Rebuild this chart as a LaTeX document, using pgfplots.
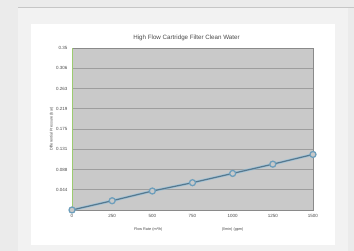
\documentclass[border=0pt]{standalone}
\usepackage{pgfplots}
\pgfplotsset{compat=1.18}
\usepackage{fontspec}
\setmainfont{Liberation Sans}
\definecolor{bgout}{HTML}{EBEBEB}
\definecolor{bgpanel}{HTML}{F2F2F2}
\definecolor{plotbg}{HTML}{C9C9C9}
\definecolor{gridc}{HTML}{9E9E9E}
\definecolor{framec}{HTML}{8A8A8A}
\definecolor{linec}{HTML}{56788E}
\definecolor{halo}{HTML}{8FC2DF}
\definecolor{markc}{HTML}{6E9FBC}
\definecolor{greenl}{HTML}{9CCB70}
\definecolor{txt}{HTML}{4A4A4A}
\begin{document}
\begin{tikzpicture}[x=1pt,y=1pt]
\useasboundingbox (0,0) rectangle (354,251);
\fill[bgout] (0,0) rectangle (354,251);
\fill[bgpanel] (18,0) rectangle (348,243);
\draw[gray!45,line width=0.8pt] (18,243.5) -- (354,243.5);
\fill[white] (31,6) rectangle (335,227);
\begin{axis}[
  at={(72pt,41pt)}, anchor=south west,
  width=241pt, height=162pt, scale only axis,
  xmin=0, xmax=6, ymin=0, ymax=0.35,
  xtick={0,1,2,3,4,5,6},
  xticklabels={0,250,500,750,1000,1250,1500},
  ytick={0.04375,0.0875,0.13125,0.175,0.21875,0.2625,0.30625,0.35},
  yticklabels={0.044,0.088,0.131,0.175,0.219,0.263,0.306,0.35},
  axis background/.style={fill=plotbg},
  axis line style={framec, line width=0.9pt},
  ymajorgrids, grid style={gridc, line width=0.7pt},
  tick style={draw=none},
  tick label style={font=\fontsize{4.5}{5}\selectfont, text=txt},
  /pgf/number format/assume math mode=true,
  yticklabel style={xshift=-1pt},
  xticklabel style={yshift=-1pt},
  title={High Flow Cartridge Filter Clean Water},
  title style={font=\fontsize{6.2}{7}\selectfont, text=txt, yshift=-2pt, xshift=-6pt},
  ylabel={Differential Pressure (bar)},
  ylabel style={font=\fontsize{3.8}{4}\selectfont, text=txt, yshift=-4pt},
  clip=false,
]
\draw[greenl, line width=1.5pt] (axis cs:0.015,0) -- (axis cs:0.015,0.35);
\addplot[halo, line width=2.8pt, opacity=0.6] coordinates {(0,0) (1,0.020) (2,0.041) (3,0.059) (4,0.079) (5,0.099) (6,0.120)};
\addplot[linec, line width=1.2pt, mark=*, mark size=3pt, mark options={draw=markc, fill=plotbg, line width=1.3pt}] coordinates {(0,0) (1,0.020) (2,0.041) (3,0.059) (4,0.079) (5,0.099) (6,0.120)};
\node[font=\fontsize{3.8}{4}\selectfont, text=txt] at (axis cs:1.9,-0.043) {Flow Rate (m³/h)};
\node[font=\fontsize{3.8}{4}\selectfont, text=txt] at (axis cs:4,-0.043) {(l/min) (gpm)};
\end{axis}
\end{tikzpicture}
\end{document}
